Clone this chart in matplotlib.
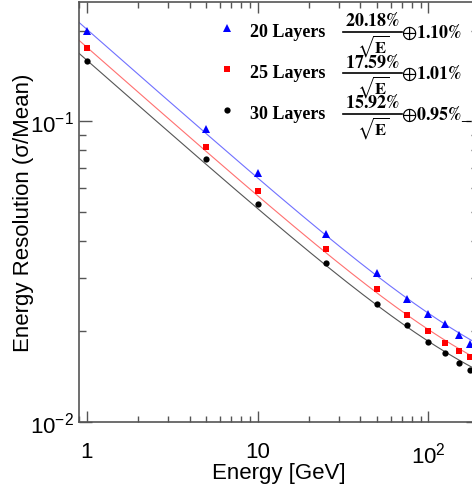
import numpy as np
import matplotlib
matplotlib.use("Agg")
from matplotlib import pyplot as plt
from matplotlib import ticker

# energies of the beam points [GeV]
energy = [1, 5, 10, 25, 50, 75, 100, 125, 150, 175]

# measured resolution (sigma/mean)
res_20 = [0.199, 0.0943, 0.0672, 0.0423, 0.0312, 0.0257, 0.0229, 0.0211, 0.0194, 0.0182]
res_25 = [0.175, 0.0823, 0.0588, 0.0376, 0.0276, 0.0227, 0.0201, 0.0183, 0.0172, 0.0164]
res_30 = [0.158, 0.0746, 0.0531, 0.0339, 0.0246, 0.0210, 0.0185, 0.0170, 0.0157, 0.0149]

# fit parameters from the legend [%]: stochastic term, constant term
fit_stoch = [20.18, 17.59, 15.92]
fit_const = [1.10, 1.01, 0.95]
layers = ['20 Layers', '25 Layers', '30 Layers']
const_tail = ['', '', '_']

x_ticks = [1, 10, 100]
x_labels = ['1', '10', r'$\mathregular{10^{2}}$']
y_ticks = [0.01, 0.1]
y_labels = [r'$\mathregular{10^{-2}}$', r'$\mathregular{10^{-1}}$']

plt.rcParams['font.family'] = ['Liberation Sans', 'DejaVu Sans']

W, H = 472, 485
fig = plt.figure(figsize=(W / 100, H / 100), dpi=100)

# axes box in pixels (the right side runs past the picture edge)
left, right, top, bottom = 79, 478, 3, 423
ax = fig.add_axes([left / W, 1 - bottom / H, (right - left) / W, (bottom - top) / H])
ax.set_xscale('log')
ax.set_yscale('log')
ax.set_xlim(0.9, 195)
ax.set_ylim(0.01, 0.249)

styles = [
    dict(marker='^', color='#0000ff', ms=6, line='#7070ff'),
    dict(marker='s', color='#ff0000', ms=5, line='#ff7070'),
    dict(marker='o', color='#000000', ms=4.5, line='#555555'),
]
series = [res_20, res_25, res_30]

e_fit = np.logspace(np.log10(0.9), np.log10(195), 300)
for vals, a, c, st in zip(series, fit_stoch, fit_const, styles):
    curve = np.sqrt((a / np.sqrt(e_fit)) ** 2 + c ** 2) / 100
    ax.plot(e_fit, curve, color=st['line'], lw=0.8, zorder=2)
    ax.plot(energy, vals, ls='none', marker=st['marker'], color=st['color'],
            ms=st['ms'], mew=0, zorder=3, clip_on=False)

ax.xaxis.set_major_locator(ticker.FixedLocator(x_ticks))
ax.xaxis.set_major_formatter(ticker.FixedFormatter(x_labels))
ax.xaxis.set_minor_locator(ticker.LogLocator(base=10, subs=np.arange(2, 10)))
ax.xaxis.set_minor_formatter(ticker.NullFormatter())
ax.yaxis.set_major_locator(ticker.FixedLocator(y_ticks))
ax.yaxis.set_major_formatter(ticker.FixedFormatter(y_labels))
ax.yaxis.set_minor_locator(ticker.LogLocator(base=10, subs=np.arange(2, 10)))
ax.yaxis.set_minor_formatter(ticker.NullFormatter())

frame = '#555555'
ax.tick_params(which='both', direction='in', top=True, right=True, colors=frame,
               labelcolor='black', width=1.0)
ax.tick_params(axis='x', which='major', length=8, labelsize=16, pad=14)
ax.tick_params(axis='x', which='minor', length=4.3)
ax.tick_params(axis='y', which='major', length=9, labelsize=16, pad=4)
ax.tick_params(axis='y', which='minor', length=4.8)
for sp in ax.spines.values():
    sp.set_color(frame)
    sp.set_linewidth(1.2)

ax.set_xlabel('Energy [GeV]', fontsize=16, labelpad=-4)
ax.set_ylabel('Energy Resolution (σ/Mean)', fontsize=16, labelpad=-3)

# legend drawn by hand, ROOT TLegend style (pixel positions from the top)
def fx(px):
    return px / W


def fy(py):
    return 1 - py / H


serif = ['Liberation Serif', 'DejaVu Serif']
fs = 13
step = 41
for i in range(3):
    off = i * step
    fig.lines.append(plt.Line2D([fx(227)], [fy(29 + off)], transform=fig.transFigure,
                                marker=styles[i]['marker'], color=styles[i]['color'],
                                ms=styles[i]['ms'], mew=0, ls='none'))
    fig.text(fx(250), fy(37 + off), layers[i], fontsize=fs, fontweight='bold',
             family=serif, va='baseline', ha='left')
    # numerator, fraction bar, denominator
    fig.text(fx(372), fy(30.5 + off), r'$\mathbf{%.2f\%%}$' % fit_stoch[i], fontsize=fs,
             math_fontfamily='stix', va='bottom', ha='center')
    fig.lines.append(plt.Line2D([fx(343), fx(402)], [fy(32.5 + off), fy(32.5 + off)],
                                transform=fig.transFigure, color='black', lw=1.2))
    fig.text(fx(373), fy(33 + off), r'$\sqrt{\mathbf{E}}$', fontsize=12,
             math_fontfamily='stix', va='top', ha='center')
    fig.text(fx(401), fy(37.5 + off),
             r'$\oplus\mathbf{%.2f\%%}$' % fit_const[i] + const_tail[i],
             fontsize=fs, math_fontfamily='stix', fontweight='bold', family=serif,
             va='baseline', ha='left')

fig.savefig('out.png', dpi=100)
